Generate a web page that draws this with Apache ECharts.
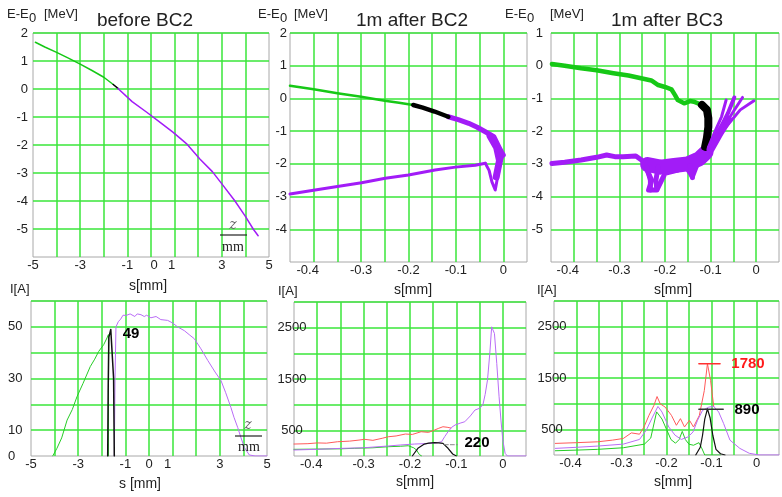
<!DOCTYPE html>
<html>
<head>
<meta charset="utf-8">
<script src="https://cdn.jsdelivr.net/npm/echarts@6/dist/echarts.min.js"></script>
<style>
html, body { margin: 0; padding: 0; background: #fff; }
#main { width: 782px; height: 497px; }
</style>
</head>
<body>
<div id="main"></div>
<script>
// ---- data ----
// top row: longitudinal phase space, E-E0 [MeV] vs s
var p1Green  = [[-4.9,1.67],[-4.5,1.5],[-4.0,1.31],[-3.5,1.1],[-3.0,0.89],[-2.5,0.66],[-2.0,0.42],[-1.6,0.16]];
var p1Black  = [[-1.6,0.16],[-1.4,0.02]];
var p1Purple = [[-1.4,0.02],[-0.8,-0.45],[-0.18,-0.83],[0.4,-1.2],[0.94,-1.55],[1.5,-1.95],[2.07,-2.5],[2.6,-2.95],
                [3.06,-3.45],[3.55,-3.99],[4.0,-4.55],[4.33,-5.0],[4.54,-5.24]];

var p2Green  = [[-0.45,0.39],[-0.4,0.28],[-0.35,0.16],[-0.3,0.05],[-0.25,-0.07],[-0.22,-0.13],[-0.19,-0.2]];
var p2Black  = [[-0.19,-0.2],[-0.17,-0.28],[-0.145,-0.4],[-0.116,-0.56]];
var p2PurpleUp = [[-0.116,-0.56],[-0.095,-0.65],[-0.073,-0.76],[-0.055,-0.88],[-0.038,-1.02],[-0.02,-1.17],[-0.006,-1.58],[0,-1.73]];
var p2PurpleTip = [[0,-1.73],[-0.006,-1.98],[-0.012,-2.4],[-0.017,-2.8],[-0.024,-2.55],[-0.03,-2.2],[-0.038,-1.98]];
var p2PurpleBlob = [[-0.028,-1.15],[-0.014,-1.5],[-0.008,-1.9],[-0.015,-2.4]];
var p2PurpleLow = [[-0.038,-1.98],[-0.059,-2.04],[-0.101,-2.1],[-0.144,-2.19],[-0.2,-2.34],[-0.249,-2.44],[-0.299,-2.58],
                   [-0.35,-2.69],[-0.397,-2.8],[-0.45,-2.92]];

var p3Green  = [[-0.448,0.05],[-0.42,0.0],[-0.384,-0.08],[-0.35,-0.14],[-0.313,-0.23],[-0.28,-0.3],[-0.25,-0.39],[-0.23,-0.45],
                [-0.215,-0.59],[-0.2,-0.65],[-0.186,-0.72],[-0.178,-0.9],[-0.172,-1.05],[-0.158,-1.15],[-0.145,-1.08],
                [-0.137,-1.1],[-0.119,-1.2]];
var p3Black  = [[-0.119,-1.2],[-0.108,-1.35],[-0.105,-1.6],[-0.105,-1.87],[-0.108,-2.2],[-0.112,-2.48]];
var p3Fan1 = [[-0.105,-2.5],[-0.09,-2.0],[-0.076,-1.56],[-0.066,-1.05]];
var p3Fan2 = [[-0.1,-2.55],[-0.082,-2.0],[-0.062,-1.45],[-0.048,-0.97]];
var p3Fan3 = [[-0.098,-2.5],[-0.075,-1.95],[-0.05,-1.4],[-0.03,-0.97]];
var p3Fan4 = [[-0.095,-2.45],[-0.065,-1.85],[-0.035,-1.35],[-0.005,-1.07]];
var p3FanCore = [[-0.1,-2.55],[-0.08,-2.05],[-0.062,-1.65]];
var p3PurpleLow = [[-0.448,-2.99],[-0.42,-2.95],[-0.384,-2.88],[-0.35,-2.8],[-0.328,-2.73],[-0.31,-2.78],[-0.292,-2.78],
                   [-0.264,-2.76],[-0.25,-2.9],[-0.243,-3.09],[-0.229,-3.5],[-0.236,-3.8],[-0.218,-3.8],[-0.2,-3.29],
                   [-0.172,-3.19],[-0.158,-2.99],[-0.14,-3.39],[-0.129,-2.99],[-0.108,-2.63]];
var p3PurpleBlob = [[-0.238,-3.02],[-0.21,-3.1],[-0.18,-3.05],[-0.15,-3.0],[-0.125,-2.85],[-0.11,-2.65]];
var p3TailA = [[-0.24,-3.1],[-0.232,-3.5],[-0.232,-3.8]];
var p3TailB = [[-0.215,-3.1],[-0.22,-3.5],[-0.218,-3.78]];
var p3TailC = [[-0.145,-3.05],[-0.14,-3.42]];

// bottom row: current profiles I[A] vs s
var p4Green  = [[-4.08,0],[-3.9,3],[-3.7,7],[-3.47,13.9],[-3.25,18],[-3.05,23],[-2.8,28],[-2.49,34.6],[-2.3,37.5],
                [-2.13,40.5],[-1.92,43.1],[-1.78,45.7],[-1.72,47],[-1.72,0]];
var p4Black  = [[-1.75,0],[-1.73,25],[-1.7,46],[-1.62,49],[-1.55,48.5],[-1.5,30],[-1.47,0]];
var p4Purple = [[-1.47,0],[-1.44,30],[-1.4,50],[-1.3,52],[-1.2,53],[-1.1,54.5],[-0.97,54.4],[-0.8,55],[-0.6,54],[-0.5,55],
                [-0.34,54.7],[-0.2,54],[-0.1,54.5],[0.08,53.5],[0.3,54],[0.5,52.8],[0.79,52.5],[1.0,51.5],[1.21,50],
                [1.5,48.5],[1.7,47],[1.92,45.4],[2.2,41.5],[2.49,37],[2.8,32.5],[3.05,29.2],[3.25,24.5],[3.47,18.8],
                [3.6,15],[3.76,11],[3.9,7],[4.04,3.3],[4.25,0.4],[4.5,0],[5,0]];

var p5Red    = [[-0.45,233],[-0.42,240],[-0.4,255],[-0.38,250],[-0.356,278],[-0.33,290],[-0.31,310],[-0.298,325],
                [-0.28,305],[-0.26,345],[-0.247,375],[-0.23,390],[-0.21,428],[-0.195,420],[-0.176,473],[-0.16,460],
                [-0.147,506],[-0.138,540],[-0.129,570],[-0.12,560],[-0.112,545]];
var p5Green  = [[-0.45,130],[-0.4,135],[-0.35,140],[-0.32,150],[-0.28,160],[-0.247,181],[-0.22,190],[-0.204,200],
                [-0.192,160],[-0.186,117],[-0.18,30],[-0.175,0]];
var p5Purple = [[-0.45,117],[-0.4,130],[-0.35,148],[-0.3,160],[-0.247,195],[-0.22,215],[-0.19,233],[-0.17,240],
                [-0.154,247],[-0.14,262],[-0.132,278],[-0.125,380],[-0.118,473],[-0.11,560],[-0.103,603],[-0.092,640],
                [-0.082,667],[-0.07,780],[-0.06,895],[-0.05,930],[-0.043,992],[-0.038,1200],[-0.033,1479],[-0.028,2000],
                [-0.024,2516],[-0.021,2550],[-0.018,2387],[-0.013,1800],[-0.008,1154],[-0.004,700],[0,311],[0.005,52],
                [0.01,0],[0.05,0]];
var p5Black  = [[-0.195,0],[-0.192,20],[-0.183,150],[-0.169,233],[-0.16,250],[-0.147,259],[-0.138,255],[-0.129,247],
                [-0.118,150],[-0.108,39],[-0.1,0]];
var p5Peak   = [[-0.126,220],[-0.098,220]];

var p6Red    = [[-0.447,226],[-0.4,240],[-0.353,257],[-0.32,290],[-0.296,322],[-0.278,431],[-0.26,405],[-0.25,546],
                [-0.239,772],[-0.228,965],[-0.221,1139],[-0.214,998],[-0.203,933],[-0.189,772],[-0.178,579],
                [-0.169,708],[-0.16,546],[-0.149,676],[-0.14,546],[-0.127,772],[-0.116,1255],[-0.109,1780],
                [-0.102,1448],[-0.095,940]];
var p6Green  = [[-0.447,83],[-0.4,95],[-0.353,110],[-0.296,141],[-0.249,212],[-0.235,330],[-0.222,840],[-0.21,700],
                [-0.2,500],[-0.19,300],[-0.18,230],[-0.172,300],[-0.165,460],[-0.158,300],[-0.15,210],[-0.14,190],
                [-0.128,240],[-0.122,140],[-0.115,0],[-0.08,0]];
var p6Purple = [[-0.447,129],[-0.4,150],[-0.353,174],[-0.296,212],[-0.26,303],[-0.245,483],[-0.231,740],[-0.219,946],
                [-0.21,837],[-0.195,546],[-0.181,386],[-0.167,303],[-0.152,353],[-0.141,450],[-0.131,676],[-0.12,869],
                [-0.106,933],[-0.095,946],[-0.084,837],[-0.073,612],[-0.059,290],[-0.037,129],[-0.016,33],[0.006,0],[0.05,0]];
var p6Black  = [[-0.135,0],[-0.125,150],[-0.12,380],[-0.115,700],[-0.109,900],[-0.103,720],[-0.097,380],[-0.09,110],
                [-0.08,25],[-0.07,0]];
var p6RedPeak   = [[-0.128,1780],[-0.081,1780]];
var p6BlackPeak = [[-0.128,890],[-0.074,890]];

// tick labels that are printed
var xLabelsMm  = [-5,-3,-1,0,1,3,5];
var xLabelsS   = [-0.4,-0.3,-0.2,-0.1,0];
var yLabelsE1  = [2,1,0,-1,-2,-3,-4,-5];
var yLabelsE2  = [2,1,0,-1,-2,-3,-4];
var yLabelsE3  = [1,0,-1,-2,-3,-4,-5];
var yLabelsI4  = [0,10,30,50];
var yLabelsI56 = [500,1500,2500];

// ---- chart ----
var font = 'Liberation Sans, Arial, sans-serif',
    gridGreen = '#3ae63a',
    frameGray = '#a8a8a8',
    txt = '#222';

function keyOf(v) { return Math.round(v * 1000) / 1000; }

function xAx(gi, min, max, step, labels, shifts) {
  return {
    type: 'value', gridIndex: gi, min: min, max: max, interval: step,
    axisLine: { show: false }, axisTick: { show: false },
    splitLine: { showMinLine: false, showMaxLine: false, lineStyle: { color: gridGreen, width: 1.5 } },
    axisLabel: {
      margin: 2, color: txt, fontSize: 13, fontFamily: font, showMinLabel: true, showMaxLabel: true,
      formatter: function (v) {
        var k = keyOf(v);
        if (labels.indexOf(k) < 0) return '';
        var s = String(k);
        if (shifts && shifts[s]) return '{' + shifts[s] + '|' + s + '}';
        return s;
      },
      rich: {
        l6:  { fontSize: 13, fontFamily: font, color: txt, padding: [0, 12, 0, 0] },
        l3:  { fontSize: 13, fontFamily: font, color: txt, padding: [0, 6, 0, 0] },
        l5:  { fontSize: 13, fontFamily: font, color: txt, padding: [0, 10, 0, 0] },
        r3:  { fontSize: 13, fontFamily: font, color: txt, padding: [0, 0, 0, 6] }
      }
    }
  };
}

function yAx(gi, min, max, step, labels, align, margin) {
  return {
    type: 'value', gridIndex: gi, min: min, max: max, interval: step,
    axisLine: { show: false }, axisTick: { show: false },
    splitLine: { showMinLine: false, showMaxLine: true, lineStyle: { color: gridGreen, width: 1.5 } },
    axisLabel: {
      margin: margin, align: align, color: txt, fontSize: 13, fontFamily: font,
      showMinLabel: true, showMaxLabel: true,
      formatter: function (v) { var k = keyOf(v); return labels.indexOf(k) >= 0 ? String(k) : ''; }
    }
  };
}

function ln(gi, data, color, width, dashed) {
  return {
    type: 'line', xAxisIndex: gi, yAxisIndex: gi, data: data,
    showSymbol: false, symbol: 'none', silent: true,
    lineStyle: { color: color, width: width, cap: 'round', join: 'round', type: dashed ? 'dashed' : 'solid' }
  };
}

function frame(l, t, w, h) {
  return { left: l, top: t, width: w, height: h, show: true, backgroundColor: '#fff', borderColor: frameGray, borderWidth: 1 };
}

function label(x, y, text, size, extra) {
  var st = { text: text, x: x, y: y, fill: txt, font: (size || 13) + 'px ' + font, align: 'center', verticalAlign: 'middle' };
  for (var k in extra) st[k] = extra[k];
  return { type: 'text', style: st, z: 100 };
}

var topGreen = '#16c816', topPurple = '#a21cf7',
    red = '#ff5a5a', lilac = '#b96cf6', green = '#26cc26', black = '#111';

var option = {
  animation: false,
  backgroundColor: '#fff',
  grid: [
    frame(33, 33, 236, 224),
    frame(290, 33, 237, 229),
    frame(551, 33, 236, 229),
    frame(31, 301, 236, 155),
    frame(294, 302, 232, 154),
    frame(554, 301, 232, 154)
  ],
  xAxis: [
    xAx(0, -5, 5, 1, xLabelsMm, { '0': 'r3', '1': 'l3' }),
    xAx(1, -0.45, 0.05, 0.05, xLabelsS, { '-0.4': 'l6' }),
    xAx(2, -0.45, 0.05, 0.05, xLabelsS, { '-0.4': 'l6' }),
    xAx(3, -5, 5, 1, xLabelsMm, { '1': 'l5' }),
    xAx(4, -0.45, 0.05, 0.05, xLabelsS, { '-0.4': 'l6' }),
    xAx(5, -0.45, 0.05, 0.05, xLabelsS, { '-0.4': 'l6' })
  ],
  yAxis: [
    yAx(0, -6, 2, 1, yLabelsE1, 'right', 5),
    yAx(1, -5, 2, 1, yLabelsE2, 'right', 3),
    yAx(2, -6, 1, 1, yLabelsE3, 'right', 8),
    yAx(3, 0, 60, 10, yLabelsI4, 'left', 23),
    yAx(4, 0, 3000, 500, yLabelsI56, 'center', 2),
    yAx(5, 0, 3000, 500, yLabelsI56, 'center', 2)
  ],
  series: [
    ln(0, p1Green, topGreen, 1.5),
    ln(0, p1Black, '#000', 1.5),
    ln(0, p1Purple, topPurple, 1.5),

    ln(1, p2Green, topGreen, 2.5),
    ln(1, p2PurpleLow, topPurple, 3),
    ln(1, p2PurpleTip, topPurple, 3),
    ln(1, p2PurpleBlob, topPurple, 7),
    ln(1, p2PurpleUp, topPurple, 5),
    ln(1, p2Black, '#000', 4.5),

    ln(2, p3Green, topGreen, 4.5),
    ln(2, p3PurpleLow, topPurple, 5),
    ln(2, p3PurpleBlob, topPurple, 15),
    ln(2, p3TailA, topPurple, 5),
    ln(2, p3TailB, topPurple, 5),
    ln(2, p3TailC, topPurple, 5),
    ln(2, p3Black, '#000', 8),
    ln(2, p3FanCore, topPurple, 8),
    ln(2, p3Fan1, topPurple, 3),
    ln(2, p3Fan2, topPurple, 4),
    ln(2, p3Fan3, topPurple, 3),
    ln(2, p3Fan4, topPurple, 3),

    ln(3, p4Green, green, 1),
    ln(3, p4Purple, lilac, 1),
    ln(3, p4Black, black, 1.5),

    ln(4, p5Red, red, 1),
    ln(4, p5Green, green, 1),
    ln(4, p5Purple, lilac, 1),
    ln(4, p5Black, black, 1.2),
    ln(4, p5Peak, '#888', 1, true),

    ln(5, p6Red, red, 1),
    ln(5, p6Green, green, 1),
    ln(5, p6Purple, lilac, 1),
    ln(5, p6Black, black, 1.2),
    ln(5, p6RedPeak, '#ff3030', 1.5),
    ln(5, p6BlackPeak, '#333', 1.5)
  ],
  graphic: [
    label(145, 21, 'before BC2', 19),
    label(412, 21, '1m after BC2', 19),
    label(667, 21, '1m after BC3', 19),

    // E-E0 [MeV]
    label(7, 14, 'E-E', 13, { align: 'left' }),
    label(29, 18, '0', 13, { align: 'left' }),
    label(44, 14, '[MeV]', 13, { align: 'left' }),
    label(258, 14, 'E-E', 13, { align: 'left' }),
    label(280, 18, '0', 13, { align: 'left' }),
    label(294, 14, '[MeV]', 13, { align: 'left' }),
    label(505, 14, 'E-E', 13, { align: 'left' }),
    label(527, 18, '0', 13, { align: 'left' }),
    label(550, 14, '[MeV]', 13, { align: 'left' }),

    label(148, 286, 's[mm]', 14),
    label(413, 290, 's[mm]', 14),
    label(673, 290, 's[mm]', 14),

    label(10, 289, 'I[A]', 13, { align: 'left' }),
    label(278, 291, 'I[A]', 13, { align: 'left' }),
    label(537, 290, 'I[A]', 13, { align: 'left' }),

    label(140, 484, 's [mm]', 14),
    label(415, 482, 's[mm]', 14),
    label(673, 482, 's[mm]', 14),

    // peak annotations
    label(131, 334, '49', 15, { font: 'bold 15px ' + font, fill: '#000' }),
    label(477, 443, '220', 15, { font: 'bold 15px ' + font, fill: '#000' }),
    label(748, 364, '1780', 15, { font: 'bold 15px ' + font, fill: '#ff1a1a' }),
    label(747, 410, '890', 15, { font: 'bold 15px ' + font, fill: '#000' }),

    // z / mm units
    label(233, 225, 'z', 14, { font: 'italic 14px DejaVu Serif, serif', fill: '#666' }),
    { type: 'line', shape: { x1: 220, y1: 235, x2: 247, y2: 235 }, style: { stroke: '#222', lineWidth: 1.2 }, z: 100 },
    label(233, 247, 'mm', 14, { font: '14px Liberation Serif, serif' }),
    label(248, 425, 'z', 14, { font: 'italic 14px DejaVu Serif, serif', fill: '#666' }),
    { type: 'line', shape: { x1: 235, y1: 436, x2: 262, y2: 436 }, style: { stroke: '#222', lineWidth: 1.2 }, z: 100 },
    label(249, 447, 'mm', 14, { font: '14px Liberation Serif, serif' })
  ]
};

var chart = echarts.init(document.getElementById('main'));
chart.setOption(option);
</script>
</body>
</html>
